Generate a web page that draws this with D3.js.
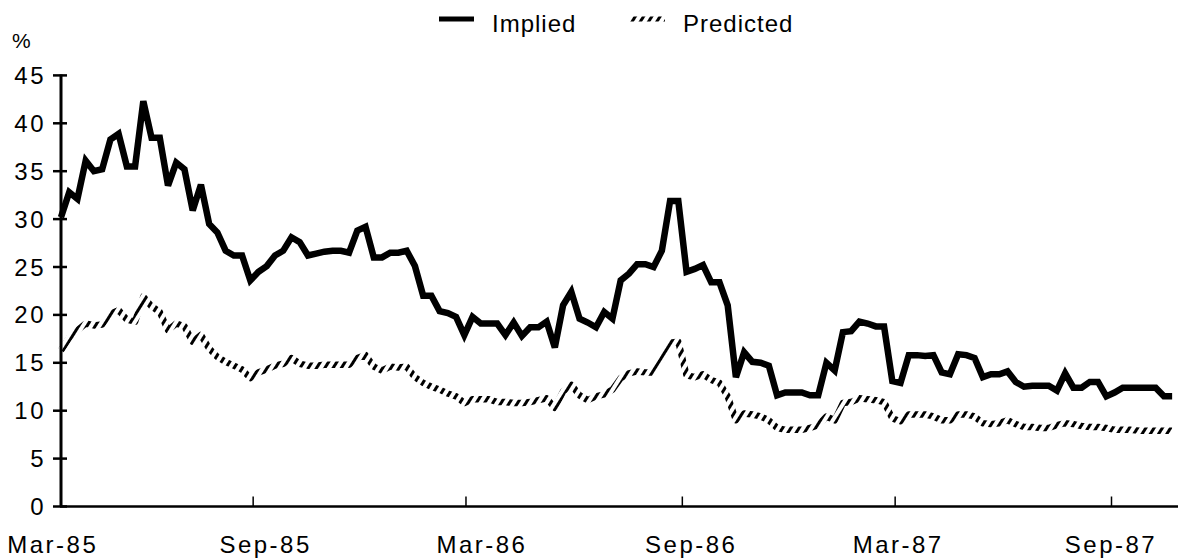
<!DOCTYPE html>
<html lang="en">
<head>
    <meta charset="UTF-8">
    <title>Implied vs predicted volatility</title>
    <style>
        body {
            margin: 0;
            background: #fff;
        }
        svg text {
            font-family: "Liberation Sans", Arial, Helvetica, sans-serif;
            fill: #000;
        }
        .tick-label {
            font-size: 24px;
            letter-spacing: 2.5px;
        }
        .legend-label {
            font-size: 24px;
            letter-spacing: 1px;
        }
    </style>
</head>
<body>
<svg id="chart"></svg>
<script src="https://cdnjs.cloudflare.com/ajax/libs/d3/7.8.5/d3.min.js"></script>
<script>

    // weekly observations, first one in late March 1985
    const startDate = new Date(1985, 2, 22)

    const implied = [
        30.2, 32.8, 32.1, 36.1, 35.0, 35.2, 38.3, 38.9, 35.5, 35.5,
        42.3, 38.5, 38.5, 33.5, 35.9, 35.2, 30.9, 33.6, 29.5, 28.6,
        26.7, 26.2, 26.2, 23.6, 24.5, 25.1, 26.2, 26.7, 28.1, 27.6,
        26.2, 26.4, 26.6, 26.7, 26.7, 26.5, 28.8, 29.2, 26.0, 26.0,
        26.5, 26.5, 26.7, 25.1, 22.0, 22.0, 20.4, 20.2, 19.8, 17.9,
        19.8, 19.1, 19.1, 19.1, 17.9, 19.2, 17.8, 18.7, 18.7, 19.3,
        16.6, 21.0, 22.4, 19.6, 19.2, 18.7, 20.3, 19.6, 23.6, 24.3,
        25.3, 25.3, 25.0, 26.7, 31.9, 31.9, 24.5, 24.8, 25.2, 23.4,
        23.4, 21.0, 13.5, 16.1, 15.1, 15.0, 14.7, 11.6, 11.9, 11.9,
        11.9, 11.6, 11.6, 15.0, 14.2, 18.2, 18.3, 19.3, 19.1, 18.8,
        18.8, 13.1, 12.9, 15.8, 15.8, 15.7, 15.8, 14.0, 13.8, 15.9,
        15.8, 15.5, 13.5, 13.8, 13.8, 14.1, 13.0, 12.5, 12.6, 12.6,
        12.6, 12.1, 13.9, 12.4, 12.4, 13.0, 13.0, 11.5, 11.9, 12.4,
        12.4, 12.4, 12.4, 12.4, 11.5, 11.5
    ]

    const predicted = [
        16.3, 17.6, 18.4, 19.1, 18.9, 19.0, 20.1, 20.5, 19.5, 19.3,
        21.9, 20.9, 20.3, 18.4, 19.1, 18.8, 17.2, 17.9, 16.5, 15.6,
        15.1, 14.7, 14.3, 13.4, 14.0, 14.3, 14.7, 14.9, 15.5, 14.9,
        14.7, 14.7, 14.8, 14.8, 14.8, 14.8, 15.5, 15.8, 14.6, 14.2,
        14.6, 14.5, 14.6, 13.5, 12.9, 12.5, 12.2, 11.8, 11.5, 10.8,
        11.2, 11.2, 11.2, 10.9, 10.9, 10.8, 10.8, 10.9, 11.1, 11.3,
        10.3, 12.0, 12.7, 11.6, 11.1, 11.5, 11.7, 12.2, 13.4, 13.9,
        14.1, 14.0, 14.0, 15.3, 17.1, 17.2, 13.7, 13.5, 13.8, 13.2,
        12.9, 11.5, 9.0, 9.7, 9.6, 9.4, 9.0, 8.2, 8.0, 8.0,
        8.0, 8.2, 8.5, 9.4, 9.0, 10.8, 10.9, 11.3, 11.2, 11.1,
        10.9, 9.2, 8.9, 9.6, 9.6, 9.6, 9.4, 9.0, 9.0, 9.6,
        9.6, 9.4, 8.7, 8.6, 8.7, 9.0, 8.6, 8.3, 8.3, 8.2,
        8.2, 8.5, 8.7, 8.6, 8.4, 8.3, 8.3, 8.2, 8.0, 8.0,
        8.0, 7.9, 7.9, 7.9, 7.9, 7.9
    ]

    const yTicks = [0, 5, 10, 15, 20, 25, 30, 35, 40, 45]
    const tickDates = ['1985-09-01', '1986-03-01', '1986-09-01', '1987-03-01', '1987-09-01']
    const tickLabels = ['Mar-85', 'Sep-85', 'Mar-86', 'Sep-86', 'Mar-87', 'Sep-87']
    // the old category axis prints its labels a little right of the ticks
    const labelDates = ['1985-03-15', '1985-09-12', '1986-03-15', '1986-09-09', '1987-03-04', '1987-09-01']
    const seriesNames = ['Implied', 'Predicted']

    const width = 1178
    const height = 560
    const parse = d3.timeParse('%Y-%m-%d')

    const weeks = implied.map((d, i) => d3.timeDay.offset(startDate, 7 * i))

    const x = d3.scaleTime()
        .domain([startDate, parse('1987-09-01')])
        .range([61, 1111])

    const y = d3.scaleLinear()
        .domain([0, 45])
        .range([506.5, 75.4])

    const svg = d3.select('#chart')
        .attr('width', width)
        .attr('height', height)

    // hatch used for the predicted series
    const defs = svg.append('defs')
    defs.append('pattern')
        .attr('id', 'hatch')
        .attr('patternUnits', 'userSpaceOnUse')
        .attr('width', 7)
        .attr('height', 7)
        .attr('patternTransform', 'rotate(32)')
        .append('rect')
        .attr('width', 3)
        .attr('height', 7)
        .attr('fill', '#000')

    // y axis
    const yAxis = svg.append('g').attr('transform', 'translate(61,0)')
    yAxis.append('line')
        .attr('y1', y(45) - 1)
        .attr('y2', y(0))
        .attr('stroke', '#000')
        .attr('stroke-width', 3)
    yAxis.selectAll('line.tick')
        .data(yTicks)
        .enter().append('line')
        .attr('class', 'tick')
        .attr('x1', -8)
        .attr('x2', 6)
        .attr('y1', d => y(d))
        .attr('y2', d => y(d))
        .attr('stroke', '#000')
        .attr('stroke-width', 2.5)
    yAxis.selectAll('text')
        .data(yTicks)
        .enter().append('text')
        .attr('class', 'tick-label')
        .attr('x', -15)
        .attr('y', d => y(d) + 8.5)
        .attr('text-anchor', 'end')
        .text(d => d)

    svg.append('text')
        .attr('class', 'tick-label')
        .attr('x', 12)
        .attr('y', 48)
        .style('font-size', '21px')
        .text('%')

    // x axis
    const xAxis = svg.append('g')
        .attr('transform', `translate(0,${y(0)})`)
        .call(d3.axisBottom(x)
            .tickValues(tickDates.map(parse))
            .tickSize(-10)
            .tickFormat(''))
    xAxis.select('.domain').remove()
    xAxis.selectAll('.tick line').attr('stroke', '#000').attr('stroke-width', 1.5)
    xAxis.append('line')
        .attr('x1', 60)
        .attr('x2', width)
        .attr('stroke', '#000')
        .attr('stroke-width', 2.5)

    svg.append('g').selectAll('text')
        .data(tickLabels)
        .enter().append('text')
        .attr('class', 'tick-label')
        .attr('x', (d, i) => x(parse(labelDates[i])))
        .attr('y', 553)
        .attr('text-anchor', 'middle')
        .text(d => d)

    const line = d3.line()
        .x((d, i) => x(weeks[i]))
        .y(d => y(d))

    svg.append('path')
        .datum(predicted)
        .attr('d', line)
        .attr('fill', 'none')
        .attr('stroke', 'url(#hatch)')
        .attr('stroke-width', 6.5)
        .attr('stroke-linejoin', 'round')

    svg.append('path')
        .datum(implied)
        .attr('d', line)
        .attr('fill', 'none')
        .attr('stroke', '#000')
        .attr('stroke-width', 6.5)
        .attr('stroke-linejoin', 'miter')
        .attr('stroke-miterlimit', 3)

    // legend
    const legend = svg.append('g')
    legend.append('line')
        .attr('x1', 439).attr('x2', 474)
        .attr('y1', 19).attr('y2', 19)
        .attr('stroke', '#000')
        .attr('stroke-width', 5)
    legend.append('line')
        .attr('x1', 629).attr('x2', 665)
        .attr('y1', 19).attr('y2', 19)
        .attr('stroke', 'url(#hatch)')
        .attr('stroke-width', 5)
    legend.selectAll('text')
        .data(seriesNames)
        .enter().append('text')
        .attr('class', 'legend-label')
        .attr('x', (d, i) => i === 0 ? 492 : 683)
        .attr('y', 32)
        .text(d => d)
</script>
</body>
</html>
